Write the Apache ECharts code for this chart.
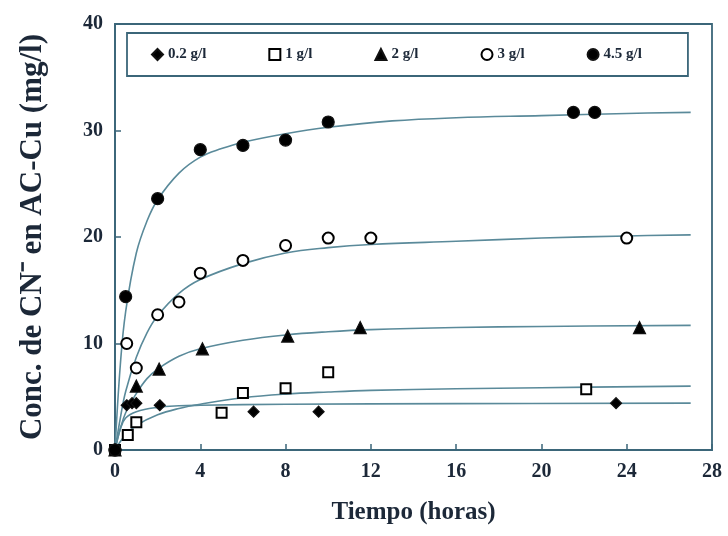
<!DOCTYPE html>
<html><head><meta charset="utf-8">
<script src="https://cdn.jsdelivr.net/npm/echarts@6/dist/echarts.min.js"></script>
<style>html,body{margin:0;padding:0;background:#fff}#c{width:728px;height:536px}</style>
</head><body><div id="c"></div>
<script>
// Tick labels
var xTicks = [0, 4, 8, 12, 16, 20, 24, 28];
var yTicks = [0, 10, 20, 30, 40];
// Series names
var names = ['0.2 g/l', '1 g/l', '2 g/l', '3 g/l', '4.5 g/l'];
// Measured points [t (h), conc (mg/l)]
var pts02 = [[0,0],[0.55,4.2],[0.8,4.4],[1.0,4.4],[2.1,4.2],[6.5,3.6],[9.55,3.6],[23.5,4.4]];
var pts1  = [[0,0],[0.6,1.4],[1.0,2.6],[5.0,3.5],[6.0,5.35],[8.0,5.8],[10.0,7.3],[22.1,5.7]];
var pts2  = [[0,0],[1.0,6.0],[2.07,7.6],[4.1,9.5],[8.1,10.7],[11.5,11.5],[24.6,11.5]];
var pts3  = [[0,0],[0.55,10.0],[1.0,7.7],[2.0,12.7],[3.0,13.9],[4.0,16.6],[6.0,17.8],[8.0,19.2],[10.0,19.9],[12.0,19.9],[24.0,19.9]];
var pts45 = [[0,0],[0.5,14.4],[2.0,23.6],[4.0,28.2],[6.0,28.6],[8.0,29.1],[10.0,30.8],[21.5,31.7],[22.5,31.7]];
// Fitted curves
var fit02 = [[0,0],[0.25,2.0],[0.5,3.0],[1,3.6],[2,4.0],[3,4.15],[4,4.2],[8,4.3],[16,4.35],[27,4.4]];
var fit1  = [[0,0],[0.25,0.8],[0.5,1.4],[1,2.3],[2,3.3],[3,3.9],[4,4.3],[6,4.9],[8,5.25],[10,5.45],[12,5.6],[16,5.75],[20,5.85],[27,6.0]];
var fit2  = [[0,0],[0.25,2.0],[0.5,3.5],[1,5.3],[1.5,6.7],[2,7.6],[3,8.8],[4,9.5],[6,10.3],[8,10.8],[10,11.1],[12,11.3],[16,11.5],[20,11.6],[27,11.7]];
var fit3  = [[0,0],[0.25,3.0],[0.5,5.5],[1,8.7],[1.5,11.0],[2,12.6],[3,14.7],[4,16.0],[6,17.5],[8,18.5],[10,19.0],[12,19.3],[16,19.6],[20,19.9],[24,20.1],[27,20.2]];
var fit45 = [[0,0],[0.25,8.0],[0.5,13.0],[1,18.5],[1.5,21.5],[2,23.5],[3,26.0],[4,27.5],[5,28.3],[6,28.9],[8,29.7],[10,30.3],[13,30.9],[16,31.2],[20,31.4],[24,31.6],[27,31.7]];

var ptsAll = [pts02, pts1, pts2, pts3, pts45];
var fitAll = [fit02, fit1, fit2, fit3, fit45];
var symbols = ['diamond', 'emptyRect', 'triangle', 'emptyCircle', 'circle'];
var sizes = [11, 10, 12, 11, 12];

var axisCol = '#3b6679';
var txtCol = '#1c2838';
var lineCol = '#5a8a9a';
var font = '"Liberation Serif", "Times New Roman", serif';

var series = [];
for (var i = 0; i < 5; i++) {
  series.push({
    type: 'line', data: fitAll[i], smooth: 0.4, showSymbol: false, silent: true,
    lineStyle: {color: lineCol, width: 1.6}, z: 2
  });
}
for (var i = 0; i < 5; i++) {
  series.push({
    name: names[i], type: 'scatter', data: ptsAll[i], symbol: symbols[i], symbolSize: sizes[i],
    itemStyle: {color: '#000', borderColor: '#111', borderWidth: 1.2, opacity: 1}, z: 5
  });
}

var chart = echarts.init(document.getElementById('c'));
chart.setOption({
  animation: false,
  backgroundColor: '#fff',
  grid: {left: 115, right: 16, top: 24, bottom: 86, show: true, borderColor: axisCol, borderWidth: 1.8},
  legend: {
    data: names, left: 127, top: 33,
    padding: [14, 46, 14, 24], itemGap: 62, itemWidth: 11, itemHeight: 11,
    borderColor: axisCol, borderWidth: 1.8,
    textStyle: {fontFamily: font, fontWeight: 'bold', fontSize: 15, color: txtCol}
  },
  xAxis: {
    type: 'value', min: xTicks[0], max: xTicks[xTicks.length - 1], interval: 4,
    name: 'Tiempo (horas)', nameLocation: 'middle', nameGap: 50,
    nameTextStyle: {fontFamily: font, fontWeight: 'bold', fontSize: 25, color: txtCol},
    axisLine: {lineStyle: {color: axisCol, width: 1.8}},
    axisTick: {inside: true, length: 6, lineStyle: {color: axisCol, width: 1.5}},
    axisLabel: {margin: 12, fontFamily: font, fontWeight: 'bold', fontSize: 20, color: txtCol},
    splitLine: {show: false}
  },
  yAxis: {
    type: 'value', min: yTicks[0], max: yTicks[yTicks.length - 1], interval: 10,
    name: 'Conc. de CN\u207B en AC-Cu (mg/l)', nameLocation: 'middle', nameGap: 67, nameRotate: 90,
    nameTextStyle: {fontFamily: font, fontWeight: 'bold', fontSize: 31, color: txtCol},
    axisLine: {lineStyle: {color: axisCol, width: 1.8}},
    axisTick: {inside: true, length: 6, lineStyle: {color: axisCol, width: 1.5}},
    axisLabel: {margin: 12, fontFamily: font, fontWeight: 'bold', fontSize: 20, color: txtCol},
    splitLine: {show: false}
  },
  series: series
});
</script></body></html>
